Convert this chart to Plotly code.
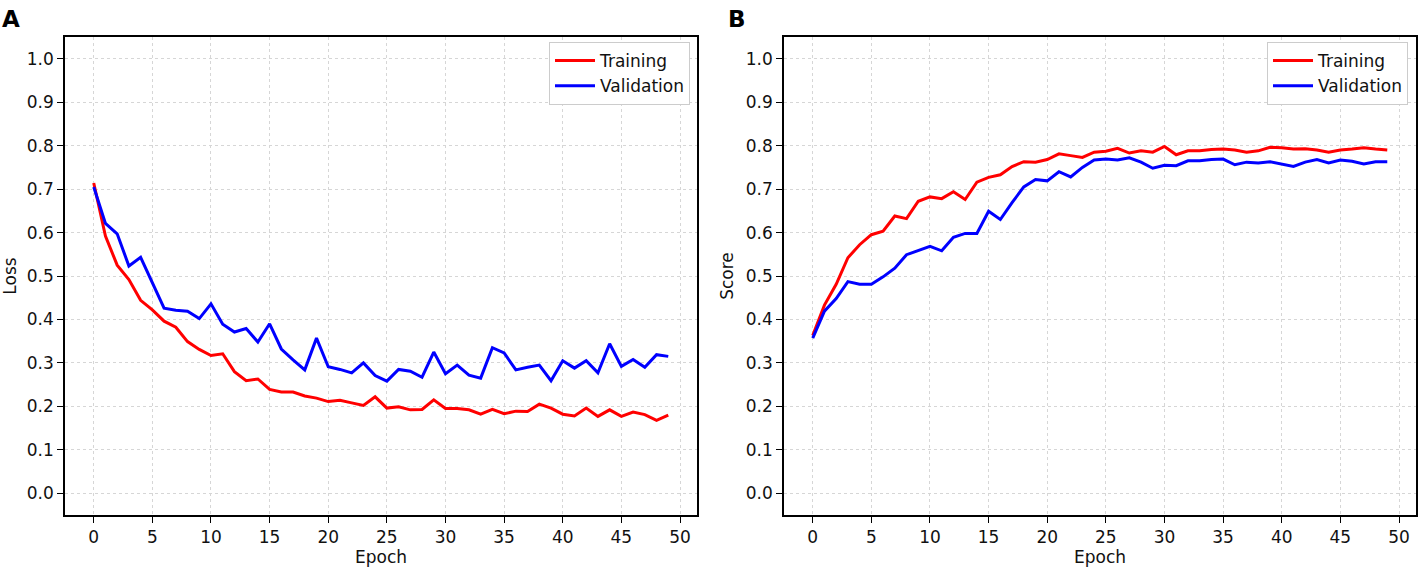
import plotly.graph_objects as go

# 数据：每个 epoch 的训练/验证曲线
epochs = list(range(50))

loss_train = [0.714, 0.592, 0.525, 0.492, 0.444, 0.422, 0.396, 0.382, 0.349, 0.331,
              0.317, 0.321, 0.280, 0.259, 0.263, 0.239, 0.233, 0.233, 0.224, 0.219,
              0.211, 0.214, 0.208, 0.202, 0.222, 0.196, 0.199, 0.192, 0.193, 0.215,
              0.195, 0.195, 0.192, 0.182, 0.193, 0.183, 0.189, 0.188, 0.205, 0.196,
              0.182, 0.178, 0.196, 0.177, 0.192, 0.177, 0.187, 0.181, 0.168, 0.180]
loss_val = [0.705, 0.621, 0.597, 0.523, 0.543, 0.483, 0.426, 0.421, 0.419, 0.402,
            0.436, 0.389, 0.371, 0.379, 0.348, 0.390, 0.332, 0.307, 0.284, 0.357,
            0.291, 0.285, 0.277, 0.300, 0.271, 0.258, 0.285, 0.281, 0.267, 0.325,
            0.275, 0.295, 0.272, 0.265, 0.335, 0.323, 0.284, 0.290, 0.295, 0.259,
            0.305, 0.288, 0.305, 0.277, 0.344, 0.292, 0.308, 0.290, 0.319, 0.315]

score_train = [0.363, 0.433, 0.481, 0.542, 0.572, 0.595, 0.603, 0.638, 0.632, 0.672,
               0.682, 0.678, 0.694, 0.676, 0.716, 0.727, 0.733, 0.752, 0.763, 0.762,
               0.768, 0.781, 0.777, 0.773, 0.785, 0.787, 0.794, 0.783, 0.788, 0.785,
               0.798, 0.779, 0.788, 0.788, 0.791, 0.792, 0.790, 0.785, 0.788, 0.796,
               0.795, 0.792, 0.793, 0.790, 0.785, 0.790, 0.792, 0.795, 0.792, 0.790]
score_val = [0.357, 0.419, 0.448, 0.487, 0.481, 0.481, 0.498, 0.518, 0.549, 0.559,
             0.568, 0.558, 0.589, 0.598, 0.598, 0.649, 0.630, 0.669, 0.705, 0.722,
             0.719, 0.740, 0.728, 0.750, 0.767, 0.769, 0.767, 0.772, 0.762, 0.748,
             0.755, 0.754, 0.765, 0.765, 0.768, 0.769, 0.756, 0.762, 0.760, 0.763,
             0.758, 0.752, 0.762, 0.768, 0.760, 0.767, 0.764, 0.758, 0.763, 0.763]

x_ticks = list(range(0, 51, 5))
y_ticks = [i / 10 for i in range(11)]

W, H = 1418, 569
FONT = "DejaVu Sans"
TXT = dict(family=FONT, size=17, color="#111")

fig = go.Figure()

# ① Loss
fig.add_trace(go.Scatter(x=epochs, y=loss_train, mode="lines", name="Training",
                         line=dict(color="#ff0000", width=3),
                         xaxis="x", yaxis="y", legend="legend"))
fig.add_trace(go.Scatter(x=epochs, y=loss_val, mode="lines", name="Validation",
                         line=dict(color="#0000ff", width=3),
                         xaxis="x", yaxis="y", legend="legend"))
# ② Score
fig.add_trace(go.Scatter(x=epochs, y=score_train, mode="lines", name="Training",
                         line=dict(color="#ff0000", width=3),
                         xaxis="x2", yaxis="y2", legend="legend2"))
fig.add_trace(go.Scatter(x=epochs, y=score_val, mode="lines", name="Validation",
                         line=dict(color="#0000ff", width=3),
                         xaxis="x2", yaxis="y2", legend="legend2"))

ax_common = dict(showline=True, linecolor="black", linewidth=1.5, mirror=True,
                 ticks="outside", ticklen=6, tickcolor="black", tickwidth=1.3,
                 showgrid=True, gridcolor="#d6d6d6", griddash="3px,3px", gridwidth=0.8,
                 zeroline=False, tickfont=TXT)

xaxis = dict(ax_common, range=[-2.45, 51.45], tickvals=x_ticks,
             title=dict(text="Epoch", font=TXT, standoff=5))
yaxis = dict(ax_common, range=[-0.05, 1.05], tickvals=y_ticks, tickformat=".1f",
             domain=[1 - 515 / H, 1 - 37 / H])

legend_common = dict(yanchor="top", xanchor="right", y=1 - 42 / H,
                     bgcolor="white", bordercolor="#cccccc", borderwidth=1,
                     font=TXT, itemwidth=40, tracegroupgap=2)

fig.update_layout(
    width=W, height=H, margin=dict(l=0, r=0, t=0, b=0),
    plot_bgcolor="white", paper_bgcolor="white",
    xaxis=dict(xaxis, domain=[65 / W, 697 / W], anchor="y"),
    yaxis=dict(yaxis, anchor="x", title=dict(text="Loss", font=TXT, standoff=8)),
    xaxis2=dict(xaxis, domain=[784 / W, 1416 / W], anchor="y2"),
    yaxis2=dict(yaxis, anchor="x2", title=dict(text="Score", font=TXT, standoff=8)),
    legend=dict(legend_common, x=690 / W),
    legend2=dict(legend_common, x=1408 / W),
    annotations=[
        dict(text="<b>A</b>", x=0, y=1 - 4 / H, xref="paper", yref="paper", xanchor="left",
             yanchor="top", showarrow=False, font=dict(family=FONT, size=23, color="black")),
        dict(text="<b>B</b>", x=726 / W, y=1 - 4 / H, xref="paper", yref="paper", xanchor="left",
             yanchor="top", showarrow=False, font=dict(family=FONT, size=23, color="black")),
    ],
)

# 去掉页面默认的 body 边距，让图从左上角开始
fig.write_html("out.html", config={"displayModeBar": False},
               post_script="document.body.style.margin='0px';")
